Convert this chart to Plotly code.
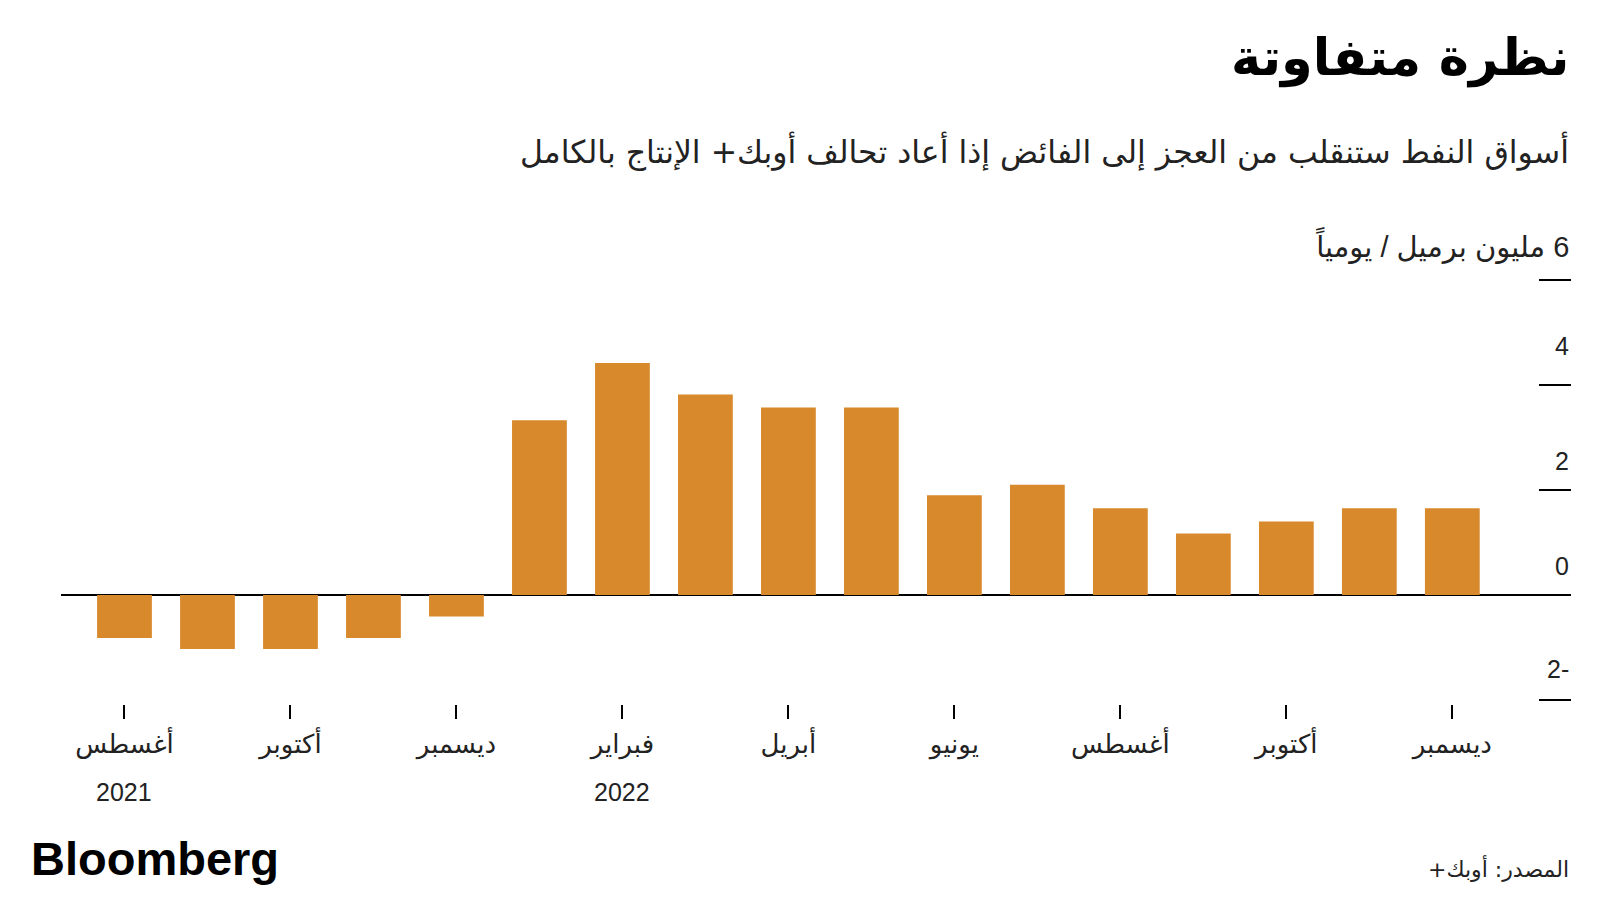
import plotly.graph_objects as go

# ---- data ----
months = ["أغسطس", "سبتمبر", "أكتوبر", "نوفمبر", "ديسمبر", "يناير", "فبراير", "مارس",
          "أبريل", "مايو", "يونيو", "يوليو", "أغسطس", "سبتمبر", "أكتوبر", "نوفمبر", "ديسمبر"]
years = [2021] * 5 + [2022] * 12
values = [-0.82, -1.03, -1.03, -0.82, -0.41, 3.33, 4.42, 3.82, 3.57, 3.57,
          1.90, 2.10, 1.65, 1.17, 1.40, 1.65, 1.65]
y_ticks = [-2, 0, 2, 4, 6]
y_tick_labels = ["2-", "0", "2", "4", "6 مليون برميل / يومياً"]

title = "نظرة متفاوتة"
subtitle = "أسواق النفط ستنقلب من العجز إلى الفائض إذا أعاد تحالف أوبك+ الإنتاج بالكامل"
source = "المصدر: أوبك+"

RLM = "\u200F"
BAR = "#D8892B"
AR_FONT = "DejaVu Sans"
NUM_FONT = "Liberation Sans, DejaVu Sans"

x = list(range(len(months)))
tick_idx = x[::2]
label_shift = {-2: 31, 0: 29, 2: 29, 4: 39, 6: 35}

fig = go.Figure()
fig.add_trace(go.Bar(x=x, y=values, width=0.66, marker=dict(color=BAR, line=dict(width=0)),
                     hoverinfo="skip"))

annotations = []
# y labels above the tick marks (RTL marks only for the Arabic unit label)
for v, t in zip(y_ticks, y_tick_labels):
    txt = RLM + t + RLM if v == 6 else t
    annotations.append(dict(x=1, xref="paper", xanchor="right", y=v, yref="y", yanchor="middle",
                            yshift=label_shift[v], text=txt, showarrow=False,
                            font=dict(family=NUM_FONT, size=25 if v != 6 else 29, color="#222")))
# year labels
seen = set()
for i, yr in enumerate(years):
    if i in tick_idx and yr not in seen:
        seen.add(yr)
        annotations.append(dict(x=i, xref="x", y=-2, yref="y", yanchor="middle", yshift=-92,
                                text=str(yr), showarrow=False,
                                font=dict(family=NUM_FONT, size=25, color="#222")))

annotations += [
    dict(x=1, xref="paper", xanchor="right", y=1.520, yref="paper", yanchor="middle",
         text="<b>" + title + "</b>", showarrow=False,
         font=dict(family=AR_FONT, size=51, color="#000")),
    dict(x=1, xref="paper", xanchor="right", y=1.301, yref="paper", yanchor="middle",
         text=RLM + subtitle + RLM, showarrow=False,
         font=dict(family=AR_FONT, size=31.5, color="#222")),
    dict(x=-0.0212, xref="paper", xanchor="left", y=-0.3647, yref="paper", yanchor="middle",
         text="<b>Bloomberg</b>", showarrow=False,
         font=dict(family="Liberation Sans", size=47, color="#000")),
    dict(x=1, xref="paper", xanchor="right", y=-0.3859, yref="paper", yanchor="middle",
         text=RLM + source + RLM, showarrow=False,
         font=dict(family=AR_FONT, size=22, color="#222")),
]

fig.update_layout(
    width=1592, height=892,
    margin=dict(l=53, r=29, t=271, b=196),
    paper_bgcolor="white", plot_bgcolor="white",
    showlegend=False,
    annotations=annotations,
    xaxis=dict(range=[-0.765, 17.43], anchor="free", position=0,
               tickmode="array", tickvals=tick_idx, ticktext=[months[i] for i in tick_idx],
               ticks="outside", ticklen=14, tickwidth=2, tickcolor="#000",
               showgrid=False, zeroline=False, showline=False,
               ticklabelstandoff=3,
               tickfont=dict(family=AR_FONT, size=26, color="#222")),
    yaxis=dict(range=[-2.02, 6.02], domain=[3 / 425, 1], side="right",
               tickmode="array", tickvals=y_ticks, showticklabels=False,
               ticks="inside", ticklen=32, tickwidth=2, tickcolor="#000",
               showgrid=False, zeroline=True, zerolinecolor="#000", zerolinewidth=2,
               showline=False),
)

fig.write_html("out.html")
